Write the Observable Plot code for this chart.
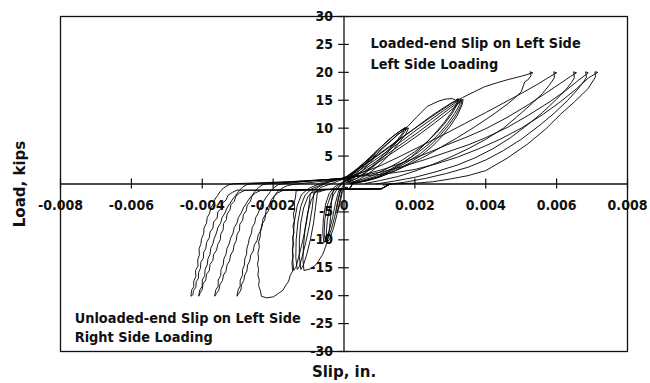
<!DOCTYPE html>
<html>
<head>
<meta charset="utf-8">
<script src="https://cdn.jsdelivr.net/npm/d3@7"></script>
<script src="https://cdn.jsdelivr.net/npm/@observablehq/plot@0.6"></script>
<style>
  html, body { margin: 0; padding: 0; background: #fff; }
  #chart svg { display: block; }
</style>
</head>
<body>
<div id="chart"></div>
<script>
// Slip values are in thousandths of an inch (x 0.001 in.), loads in kips.
const xTicks = [-0.008, -0.006, -0.004, -0.002, 0, 0.002, 0.004, 0.006, 0.008];
const xTickLabels = ["-0.008", "-0.006", "-0.004", "-0.002", "0", "0.002", "0.004", "0.006", "0.008"];
const yTicks = [-30, -25, -20, -15, -10, -5, 5, 10, 15, 20, 25, 30];
const yTickLabels = ["-30", "-25", "-20", "-15", "-10", "-5", "5", "10", "15", "20", "25", "30"];

const annotations = [
  {x: 0.00075, y: 25.1, text: "Loaded-end Slip on Left Side"},
  {x: 0.00075, y: 21.5, text: "Left Side Loading"},
  {x: -0.0076, y: -24.1, text: "Unloaded-end Slip on Left Side"},
  {x: -0.0076, y: -27.5, text: "Right Side Loading"}
];

// ---- left side loading (positive) ----
const p5 = [[0.0,0.4],[0.2,1.5],[0.4,2.6],[0.6,3.7],[0.8,4.8],[0.9,5.2],[0.82,4.4],[0.65,3.2],[0.45,2.0],[0.25,0.9],[0.05,0.2]];
const p10a = [[0.0,0.6],[0.25,1.9],[0.5,3.4],[0.72,4.6],[0.95,6.1],[1.15,7.2],[1.38,8.5],[1.55,9.3],[1.72,10.1],[1.66,9.2],[1.52,8.0],[1.3,6.4],[1.05,4.8],[0.82,3.3],[0.58,2.0],[0.35,1.0],[0.1,0.3]];
const p10b = [[0.05,0.8],[0.3,2.3],[0.55,3.7],[0.8,5.2],[1.02,6.5],[1.25,7.9],[1.45,8.9],[1.63,9.7],[1.78,10.2],[1.72,9.4],[1.58,8.2],[1.38,6.7],[1.14,5.0],[0.9,3.5],[0.65,2.2],[0.4,1.1],[0.15,0.4]];
const p10c = [[0.1,0.5],[0.36,2.0],[0.62,3.5],[0.86,4.9],[1.1,6.4],[1.32,7.7],[1.5,8.8],[1.68,9.6],[1.82,10.0],[1.75,9.0],[1.6,7.8],[1.42,6.3],[1.2,4.7],[0.96,3.2],[0.7,1.9],[0.45,0.9],[0.2,0.2]];
const p15a = [[0.0,1.0],[0.3,2.4],[0.6,3.9],[0.9,5.5],[1.2,7.1],[1.5,8.7],[1.8,10.3],[2.05,12.0],[2.35,13.9],[2.65,14.8],[2.85,15.2],[3.05,15.3],[3.15,15.0],[3.22,15.3],
              [3.18,14.4],[3.05,13.0],[2.85,11.2],[2.64,9.6],[2.4,7.9],[2.15,6.3],[1.89,4.8],[1.6,3.5],[1.3,2.4],[0.94,1.2],[0.6,0.6],[0.3,0.2]];
const p15b = [[0.0,1.0],[0.4,2.6],[0.8,4.4],[1.2,6.2],[1.6,8.1],[2.0,10.0],[2.4,11.9],[2.75,13.4],[3.05,14.6],[3.25,15.2],
              [3.2,14.3],[3.05,12.6],[2.85,10.9],[2.6,9.1],[2.3,7.3],[2.0,5.8],[1.6,4.1],[1.2,2.7],[0.8,1.5],[0.4,0.6],[0.1,0.2]];
const p15c = [[0.05,1.0],[0.45,2.5],[0.85,4.2],[1.25,6.0],[1.65,7.8],[2.05,9.7],[2.45,11.5],[2.8,13.1],[3.1,14.4],[3.3,15.2],
              [3.26,14.2],[3.12,12.6],[2.92,10.8],[2.68,9.0],[2.4,7.2],[2.1,5.7],[1.7,4.0],[1.3,2.6],[0.9,1.4],[0.5,0.6],[0.15,0.1]];
const p15d = [[0.1,0.9],[0.5,2.3],[0.9,4.0],[1.3,5.7],[1.7,7.5],[2.1,9.3],[2.5,11.2],[2.85,12.9],[3.15,14.3],[3.33,15.1],
              [3.3,14.1],[3.16,12.4],[2.96,10.6],[2.72,8.8],[2.45,7.0],[2.15,5.4],[1.75,3.8],[1.35,2.4],[0.95,1.3],[0.55,0.5],[0.2,0.1]];
const p15e = [[0.1,0.9],[0.55,2.2],[0.95,3.8],[1.35,5.5],[1.75,7.2],[2.15,9.0],[2.55,10.9],[2.9,12.6],[3.2,14.2],[3.36,15.2],
              [3.34,14.3],[3.2,12.3],[3.0,10.4],[2.76,8.5],[2.5,6.8],[2.2,5.2],[1.8,3.6],[1.4,2.3],[1.0,1.2],[0.6,0.5],[0.25,0.1]];
const p20a = [[0.0,1.0],[0.3,2.3],[0.6,3.6],[1.1,5.9],[1.6,8.2],[2.1,10.4],[2.6,12.6],[3.05,14.5],[3.35,15.5],[3.7,16.6],[3.96,17.4],[4.3,18.1],[4.63,18.7],[5.0,19.3],[5.33,19.9],[5.25,20.1],
              [5.28,19.4],[5.18,18.6],[5.1,18.3],[5.0,16.5],[4.8,15.3],[4.63,14.4],[4.2,12.4],[3.68,10.2],[3.2,8.3],[2.74,6.6],[2.3,5.0],[1.9,3.7],[1.5,2.5],[1.1,1.5],[0.7,0.7],[0.35,0.2]];
const p20b = [[0.0,1.1],[0.4,1.8],[1.0,3.2],[1.6,5.0],[2.2,6.9],[2.8,8.8],[3.4,10.8],[4.0,12.8],[4.5,14.5],[5.0,16.2],[5.5,18.0],[5.8,19.2],[6.0,19.9],[5.92,20.1],
              [5.94,19.1],[5.85,18.2],[5.78,17.6],[5.6,16.2],[5.3,14.4],[5.0,12.7],[4.5,10.0],[4.0,8.0],[3.5,6.3],[3.0,4.8],[2.5,3.5],[2.0,2.3],[1.5,1.3],[1.0,0.6],[0.6,0.1]];
const p20c = [[0.0,1.1],[0.5,1.6],[1.1,2.6],[1.7,3.9],[2.3,5.4],[2.9,7.0],[3.5,8.5],[4.0,9.9],[4.6,11.9],[5.2,14.2],[5.7,16.3],[6.1,18.0],[6.4,19.3],[6.56,19.9],[6.48,20.1],
              [6.5,19.0],[6.42,18.2],[6.3,17.2],[6.0,15.2],[5.6,12.8],[5.2,10.7],[4.7,8.3],[4.2,6.3],[3.7,4.7],[3.2,3.4],[2.6,2.2],[2.0,1.2],[1.4,0.5],[0.9,0.0]];
const p20d = [[0.0,1.2],[0.5,1.5],[1.1,2.2],[1.7,3.2],[2.3,4.4],[2.9,5.7],[3.5,7.0],[4.0,8.3],[4.6,10.1],[5.2,12.3],[5.8,14.7],[6.25,16.7],[6.6,18.5],[6.89,19.9],[6.82,20.1],
              [6.84,19.1],[6.76,18.3],[6.6,17.0],[6.3,14.9],[5.9,12.5],[5.5,10.4],[5.0,8.0],[4.5,6.0],[4.0,4.3],[3.5,3.0],[2.9,1.9],[2.3,1.0],[1.7,0.3],[1.2,-0.1]];
const p20e = [[0.0,1.2],[0.5,1.4],[1.0,1.7],[1.5,2.1],[2.0,2.6],[2.6,3.6],[3.2,4.8],[3.8,6.3],[4.4,8.0],[5.0,10.0],[5.6,12.4],[6.1,14.7],[6.55,17.0],[6.9,19.0],[7.16,20.0],[7.08,20.1],
              [7.1,19.2],[7.0,18.2],[6.89,17.1],[6.5,14.7],[6.13,12.6],[5.7,9.9],[5.19,7.2],[4.6,4.6],[4.0,2.4],[3.5,1.5],[3.0,0.9],[2.5,0.4],[2.0,0.15],[1.4,0.0],[1.1,-0.2]];

// ---- right side loading (negative) ----
const m5 = [[0.05,-0.5],[-0.05,-1.5],[-0.1,-3.0],[-0.15,-4.4],[-0.2,-5.2],[-0.2,-4.2],[-0.16,-2.6],[-0.1,-1.2],[0.0,0.0]];
const m10a = [[0.1,-0.6],[-0.05,-1.0],[-0.12,-3.0],[-0.2,-5.5],[-0.3,-8.0],[-0.4,-9.8],[-0.47,-10.4],[-0.5,-8.8],[-0.47,-6.5],[-0.4,-4.0],[-0.3,-2.0],[-0.18,-0.8],[0.0,0.3],[0.2,0.9]];
const m10b = [[0.1,-0.7],[-0.1,-1.1],[-0.18,-3.2],[-0.26,-5.8],[-0.36,-8.2],[-0.46,-9.9],[-0.52,-10.4],[-0.56,-8.8],[-0.54,-6.3],[-0.47,-3.8],[-0.36,-1.8],[-0.22,-0.7],[0.0,0.4],[0.2,0.9]];
const m10c = [[0.1,-0.7],[-0.15,-1.2],[-0.24,-3.4],[-0.32,-6.0],[-0.42,-8.4],[-0.52,-10.0],[-0.57,-10.5],[-0.6,-8.6],[-0.58,-6.2],[-0.52,-3.6],[-0.42,-1.7],[-0.28,-0.6],[0.0,0.5],[0.2,1.0]];
const m15a = [[0.25,0.1],[0.15,-0.9],[-0.3,-1.0],[-0.35,-3.0],[-0.38,-6.0],[-0.42,-8.5],[-0.48,-10.5],[-0.6,-12.6],[-0.78,-14.4],[-0.95,-15.2],[-1.13,-15.5],
              [-1.16,-13.5],[-1.14,-11.0],[-1.1,-8.0],[-1.02,-5.0],[-0.93,-3.0],[-0.82,-1.6],[-0.65,-0.6],[-0.3,0.2],[0.0,0.9]];
const m15b = [[0.25,0.1],[0.15,-0.9],[-0.5,-1.0],[-0.75,-1.5],[-0.8,-4.0],[-0.86,-7.0],[-0.95,-10.0],[-1.05,-12.6],[-1.15,-14.6],[-1.22,-15.3],
              [-1.26,-13.0],[-1.26,-10.0],[-1.22,-7.0],[-1.14,-4.3],[-1.02,-2.3],[-0.85,-1.0],[-0.5,0.2],[0.0,1.0]];
const m15c = [[0.25,0.1],[0.15,-0.9],[-0.6,-1.0],[-0.85,-1.6],[-0.9,-4.5],[-0.98,-7.5],[-1.08,-10.5],[-1.18,-13.0],[-1.26,-14.8],[-1.32,-15.3],
              [-1.36,-13.2],[-1.35,-10.0],[-1.3,-6.8],[-1.22,-4.0],[-1.1,-2.0],[-0.92,-0.9],[-0.5,0.3],[0.0,1.1]];
const m15d = [[0.25,0.1],[0.15,-0.9],[-0.7,-1.0],[-0.95,-1.7],[-1.0,-4.5],[-1.08,-7.6],[-1.18,-10.6],[-1.28,-13.1],[-1.35,-14.8],[-1.42,-15.5],
              [-1.45,-13.3],[-1.44,-10.0],[-1.4,-6.7],[-1.32,-3.9],[-1.2,-1.9],[-1.0,-0.8],[-0.6,0.3],[0.0,1.1]];
const m20a = [[1.3,0.0],[1.05,-0.9],[0.2,-0.95],[-0.8,-1.05],[-1.35,-1.2],[-1.37,-2.5],[-1.41,-3.3],[-1.39,-4.5],[-1.43,-5.4],[-1.4,-6.6],[-1.44,-7.5],[-1.41,-8.7],[-1.45,-9.6],[-1.42,-10.8],[-1.46,-11.8],[-1.43,-13.0],[-1.47,-14.0],[-1.45,-15.6],[-1.52,-16.4],[-1.56,-17.4],[-1.64,-18.1],[-1.72,-19.0],[-1.85,-19.6],[-1.99,-20.2],[-2.18,-20.4],[-2.33,-20.1],
              [-2.36,-19.1],[-2.41,-18.2],[-2.39,-17.2],[-2.43,-16.3],[-2.41,-15.3],[-2.44,-14.4],[-2.41,-13.3],[-2.43,-12.4],[-2.39,-11.3],[-2.41,-10.4],[-2.36,-9.3],[-2.36,-8.3],[-2.3,-7.4],[-2.29,-6.3],[-2.22,-5.5],[-2.19,-4.5],[-2.11,-3.7],[-2.05,-2.8],[-1.96,-2.1],[-1.88,-1.4],[-1.76,-0.8],[-1.6,-0.3],[-1.45,-0.1],[-1.2,0.1],[-0.6,0.5],[0.0,1.0],[0.3,1.25]];
const m20b = [[1.3,0.0],[1.05,-0.9],[0.0,-0.95],[-1.0,-1.05],[-1.72,-1.15],[-1.87,-1.6],[-1.97,-2.2],[-2.01,-3.1],[-2.1,-3.8],[-2.13,-4.8],[-2.21,-5.5],[-2.24,-6.5],[-2.32,-7.2],[-2.34,-8.3],[-2.42,-9.1],[-2.45,-10.1],[-2.53,-10.9],[-2.56,-12.0],[-2.63,-12.7],[-2.66,-13.8],[-2.72,-14.5],[-2.74,-15.6],[-2.8,-16.3],[-2.83,-17.3],[-2.89,-18.0],[-2.91,-19.0],[-2.97,-19.6],[-3.02,-20.1],
              [-2.99,-19.0],[-2.93,-18.3],[-2.93,-17.2],[-2.87,-16.4],[-2.86,-15.3],[-2.81,-14.5],[-2.8,-13.4],[-2.75,-12.6],[-2.74,-11.5],[-2.7,-10.7],[-2.67,-9.7],[-2.61,-8.8],[-2.59,-7.8],[-2.52,-7.0],[-2.49,-6.0],[-2.42,-5.2],[-2.37,-4.3],[-2.3,-3.5],[-2.23,-2.7],[-2.15,-2.0],[-2.07,-1.3],[-1.97,-0.6],[-1.85,-0.1],[-1.72,0.05],[-1.0,0.5],[0.0,1.05],[0.3,1.25]];
const m20c = [[1.3,0.0],[1.05,-0.85],[0.0,-0.95],[-1.2,-1.05],[-2.35,-1.15],[-2.5,-1.6],[-2.6,-2.2],[-2.64,-3.1],[-2.73,-3.8],[-2.76,-4.8],[-2.84,-5.5],[-2.86,-6.5],[-2.94,-7.2],[-2.95,-8.3],[-3.02,-9.1],[-3.04,-10.1],[-3.1,-10.9],[-3.13,-12.0],[-3.2,-12.7],[-3.23,-13.8],[-3.3,-14.5],[-3.33,-15.6],[-3.4,-16.3],[-3.43,-17.3],[-3.5,-18.0],[-3.53,-19.0],[-3.6,-19.6],[-3.65,-20.1],
              [-3.62,-19.0],[-3.55,-18.3],[-3.55,-17.2],[-3.48,-16.4],[-3.47,-15.3],[-3.41,-14.5],[-3.39,-13.4],[-3.33,-12.6],[-3.3,-11.5],[-3.24,-10.7],[-3.2,-9.7],[-3.13,-8.8],[-3.1,-7.8],[-3.02,-7.0],[-2.98,-6.0],[-2.9,-5.2],[-2.84,-4.3],[-2.76,-3.5],[-2.68,-2.7],[-2.59,-2.0],[-2.51,-1.3],[-2.41,-0.6],[-2.28,-0.1],[-2.15,0.05],[-1.2,0.45],[0.0,1.0],[0.3,1.2]];
const m20d = [[1.3,0.0],[1.05,-0.85],[0.0,-0.9],[-1.5,-1.05],[-2.8,-1.15],[-2.95,-1.6],[-3.05,-2.2],[-3.1,-3.1],[-3.19,-3.7],[-3.22,-4.7],[-3.3,-5.4],[-3.32,-6.4],[-3.4,-7.1],[-3.41,-8.2],[-3.48,-9.0],[-3.49,-10.0],[-3.56,-10.8],[-3.6,-11.9],[-3.68,-12.6],[-3.7,-13.7],[-3.78,-14.4],[-3.8,-15.5],[-3.88,-16.2],[-3.9,-17.2],[-3.98,-17.9],[-4.0,-18.9],[-4.06,-19.5],[-4.1,-20.1],
              [-4.07,-19.0],[-4.0,-18.3],[-4.0,-17.2],[-3.93,-16.4],[-3.92,-15.3],[-3.86,-14.5],[-3.84,-13.4],[-3.78,-12.6],[-3.76,-11.5],[-3.7,-10.7],[-3.66,-9.7],[-3.6,-8.8],[-3.56,-7.8],[-3.48,-7.0],[-3.44,-6.0],[-3.36,-5.2],[-3.3,-4.3],[-3.22,-3.5],[-3.14,-2.7],[-3.05,-2.0],[-2.97,-1.3],[-2.87,-0.6],[-2.74,-0.1],[-2.6,0.05],[-1.5,0.4],[0.0,1.0],[0.3,1.2]];
const m20e = [[1.3,0.0],[1.05,-0.85],[0.0,-0.9],[-1.6,-1.05],[-3.02,-1.1],[-3.15,-1.5],[-3.27,-2.0],[-3.33,-2.9],[-3.43,-3.4],[-3.47,-4.4],[-3.56,-5.0],[-3.58,-6.1],[-3.68,-6.8],[-3.7,-7.9],[-3.78,-8.6],[-3.8,-9.6],[-3.88,-10.5],[-3.9,-11.6],[-3.96,-12.2],[-3.97,-13.3],[-4.04,-14.0],[-4.05,-15.1],[-4.1,-15.8],[-4.11,-16.9],[-4.17,-17.5],[-4.18,-18.5],[-4.25,-19.1],[-4.26,-19.8],[-4.32,-20.1],
              [-4.3,-19.0],[-4.24,-18.4],[-4.24,-17.4],[-4.18,-16.6],[-4.19,-15.5],[-4.12,-14.7],[-4.13,-13.6],[-4.08,-12.7],[-4.09,-11.6],[-4.04,-10.8],[-4.02,-9.8],[-3.96,-8.9],[-3.95,-7.9],[-3.88,-7.0],[-3.86,-6.0],[-3.79,-5.2],[-3.76,-4.3],[-3.68,-3.5],[-3.64,-2.7],[-3.56,-2.0],[-3.5,-1.4],[-3.4,-0.7],[-3.25,-0.15],[-3.12,0.05],[-1.6,0.4],[0.0,0.95],[0.3,1.15]];

const loops = [p5, m5, p10a, p10b, p10c, m10a, m10b, m10c, p15a, p15b, p15c, p15d, p15e,
               m15a, m15b, m15c, m15d, p20a, p20b, p20c, p20d, p20e, m20a, m20b, m20c, m20d, m20e];
const table = loops.flatMap((pts, k) => pts.map(([s, l]) => ({slip: s * 0.001, load: l, loop: k})));

const tickFont = {fontFamily: "'DejaVu Sans Condensed', 'DejaVu Sans', sans-serif", fontWeight: "bold", fontSize: 14};
const tickKips = 0.9;      // half length of x ticks, in kips
const tickSlip = 0.00015;  // half length of y ticks, in inches

const chart = Plot.plot({
  width: 650,
  height: 383,
  marginLeft: 60,
  marginRight: 23,
  marginTop: 16,
  marginBottom: 32,
  x: {domain: [-0.008, 0.008], axis: null},
  y: {domain: [-30, 30], axis: null},
  marks: [
    Plot.frame({stroke: "#111", strokeWidth: 1.3}),
    Plot.ruleY([0], {stroke: "#111", strokeWidth: 1.3}),
    Plot.ruleX([0], {stroke: "#111", strokeWidth: 1.3}),
    Plot.ruleX(xTicks, {x: d => d, y1: -tickKips, y2: tickKips, stroke: "#111", strokeWidth: 1.2}),
    Plot.ruleY(yTicks, {y: d => d, x1: -tickSlip, x2: tickSlip, stroke: "#111", strokeWidth: 1.2}),
    Plot.text(xTicks, {x: d => d, y: 0, text: (d, i) => xTickLabels[i], dy: 22, textAnchor: "middle", lineAnchor: "middle", fill: "#111", ...tickFont}),
    Plot.text(yTicks, {x: 0, y: d => d, text: (d, i) => yTickLabels[i], dx: -11, textAnchor: "end", lineAnchor: "middle", fill: "#111", ...tickFont}),
    Plot.line(table, {x: "slip", y: "load", z: "loop", stroke: "#000", strokeWidth: 0.9, curve: "linear"}),
    Plot.text(annotations, {x: "x", y: "y", text: "text", textAnchor: "start", lineAnchor: "middle", fill: "#111",
      fontFamily: "'DejaVu Sans Condensed', 'DejaVu Sans', sans-serif", fontWeight: "bold", fontSize: 14.4}),
    Plot.text(["Slip, in."], {frameAnchor: "bottom", text: d => d, dy: 15, textAnchor: "middle", lineAnchor: "top", fill: "#111",
      fontFamily: "'DejaVu Sans', sans-serif", fontWeight: "bold", fontSize: 15}),
    Plot.text(["Load, kips"], {frameAnchor: "left", text: d => d, dx: -40, rotate: -90, textAnchor: "middle", lineAnchor: "middle", fill: "#111",
      fontFamily: "'DejaVu Sans', sans-serif", fontWeight: "bold", fontSize: 15})
  ]
});
document.getElementById("chart").appendChild(chart);
</script>
</body>
</html>
